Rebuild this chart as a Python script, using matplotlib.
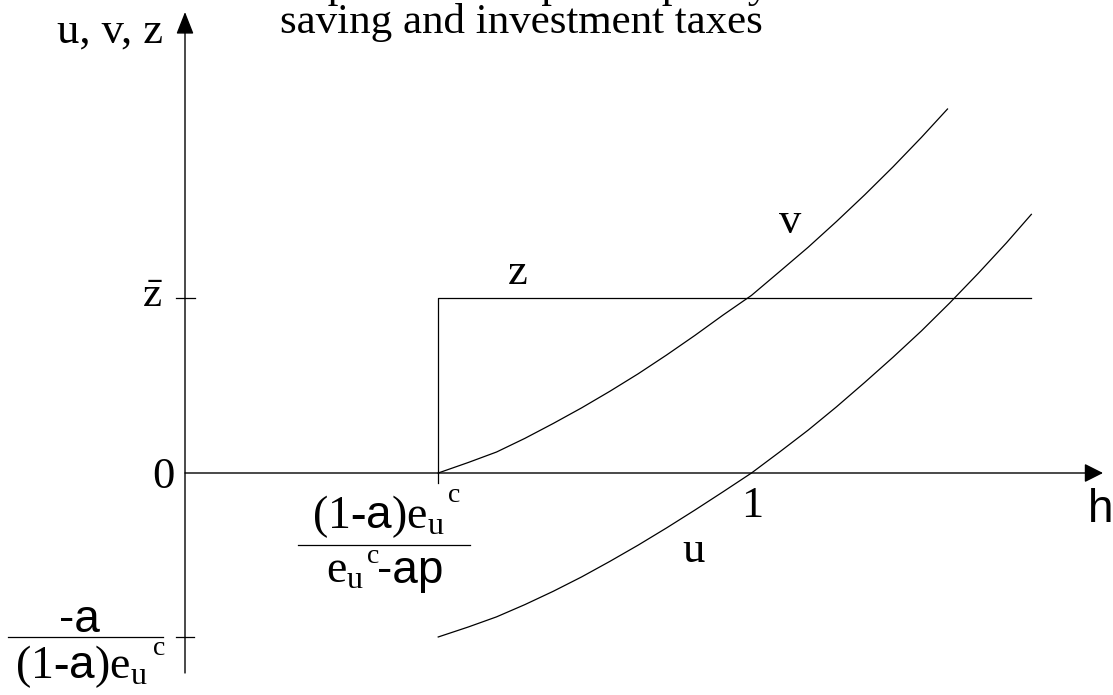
import matplotlib
matplotlib.use("Agg")
import matplotlib.pyplot as plt

plt.rcParams['font.family'] = ['Liberation Serif', 'DejaVu Serif']
plt.rcParams['mathtext.fontset'] = 'custom'
plt.rcParams['mathtext.rm'] = 'Liberation Serif'
plt.rcParams['mathtext.it'] = 'Liberation Serif:italic'
plt.rcParams['mathtext.sf'] = 'Liberation Sans'

# data (h on x axis, h=1 at the tick "1"; z-bar = 1 on y axis)
h0 = 0.447           # (1-a)e/(e-ap)
zbar = 1.0
u_low = -0.937       # -a/((1-a)e)
h_zend = 1.493

h_v = [0.447, 0.5, 0.55, 0.6, 0.65, 0.7, 0.75, 0.8, 0.85, 0.9, 0.95,
       1.0, 1.05, 1.1, 1.15, 1.2, 1.25, 1.3, 1.346]
v_vals = [0.0, 0.060, 0.12, 0.198, 0.283, 0.372, 0.467, 0.567, 0.674, 0.786, 0.903,
          1.015, 1.152, 1.29, 1.437, 1.59, 1.75, 1.918, 2.08]

h_u = [0.447, 0.5, 0.55, 0.6, 0.65, 0.7, 0.75, 0.8, 0.85, 0.9, 0.95,
       1.0, 1.05, 1.1, 1.15, 1.2, 1.25, 1.3, 1.35, 1.4, 1.45, 1.494]
u_vals = [-0.937, -0.880, -0.822, -0.752, -0.676, -0.594, -0.505, -0.412, -0.314, -0.212, -0.107,
          0.0, 0.121, 0.245, 0.378, 0.518, 0.662, 0.812, 0.972, 1.14, 1.315, 1.478]

z_h = [h0, h0, h_zend]
z_vals = [0.0, zbar, zbar]

# pixel -> data helpers (layout only)
def hx(px):
    return (px - 185) / 566.5

def yy(py):
    return (473 - py) / 175.0

fig = plt.figure(figsize=(11.13, 6.95), dpi=100)
ax = fig.add_axes([0, 0, 1, 1])
ax.set_xlim(hx(0), hx(1113))
ax.set_ylim(yy(695), yy(0))
ax.set_axis_off()

lw = 0.9
# axes with arrows
ax.annotate('', xy=(0, yy(12)), xytext=(0, yy(673)),
            arrowprops=dict(arrowstyle='-|>,head_length=1.37,head_width=0.54',
                            lw=1.0, color='black', shrinkA=0, shrinkB=0, mutation_scale=10))
ax.annotate('', xy=(hx(1103), 0), xytext=(0, 0),
            arrowprops=dict(arrowstyle='-|>,head_length=1.15,head_width=0.58',
                            lw=1.0, color='black', shrinkA=0, shrinkB=0, mutation_scale=10))

# ticks
ax.plot([hx(176), hx(195)], [zbar, zbar], color='black', lw=lw)
ax.plot([hx(176), hx(194)], [u_low, u_low], color='black', lw=lw)
ax.plot([h0, h0], [0, yy(483)], color='black', lw=lw)

# curves
ax.plot(z_h, z_vals, color='black', lw=lw)
ax.plot(h_v, v_vals, color='black', lw=lw)
ax.plot(h_u, u_vals, color='black', lw=lw)

fs = 31
# title (top line runs off the figure edge, as in the original)
ax.text(hx(280), yy(-3), 'Impact of the optimal policy with', fontsize=fs,
        ha='left', va='baseline', clip_on=False)
ax.text(hx(280), yy(33), 'saving and investment taxes', fontsize=fs,
        ha='left', va='baseline')

ax.text(hx(163), yy(43), 'u, v, z', fontsize=32, ha='right', va='baseline')
ax.text(hx(175), yy(488), '0', fontsize=32, ha='right', va='baseline')
ax.text(hx(752), yy(517), '1', fontsize=32, ha='center', va='baseline')
ax.text(hx(1088), yy(522), 'h', fontsize=33, ha='left', va='baseline',
        family='Liberation Sans')
ax.text(hx(694), yy(562), 'u', fontsize=32, ha='center', va='baseline')
ax.text(hx(790), yy(233), 'v', fontsize=32, ha='center', va='baseline')
ax.text(hx(518), yy(284), 'z', fontsize=32, ha='center', va='baseline')
ax.text(hx(163), yy(307), r'$\bar{\mathrm{z}}$', fontsize=31, ha='right', va='baseline')

fsf = 33
fsc = 20
main = r'$\text{(1-}\mathsf{a}\text{)e}_{\text{u}}$'
# fraction under h0
ax.text(hx(312), yy(528), main, fontsize=fsf, ha='left', va='baseline')
ax.text(hx(448), yy(502), 'c', fontsize=fsc, ha='left', va='baseline')
ax.plot([hx(298), hx(470)], [yy(545), yy(545)], color='black', lw=lw)
ax.text(hx(326), yy(583), r'$\text{e}_{\text{u}}$', fontsize=fsf, ha='left', va='baseline')
ax.text(hx(367), yy(563), 'c', fontsize=fsc, ha='left', va='baseline')
ax.text(hx(377), yy(583), '-ap', fontsize=fsf, ha='left', va='baseline',
        family='Liberation Sans')

# fraction at lower tick
ax.text(hx(79), yy(632), '-a', fontsize=fsf, ha='center', va='baseline',
        family='Liberation Sans')
ax.plot([hx(8), hx(163)], [u_low, u_low], color='black', lw=lw)
ax.text(hx(15), yy(678), main, fontsize=fsf, ha='left', va='baseline')
ax.text(hx(153), yy(655), 'c', fontsize=fsc, ha='left', va='baseline')

fig.savefig('out.png', dpi=100)
